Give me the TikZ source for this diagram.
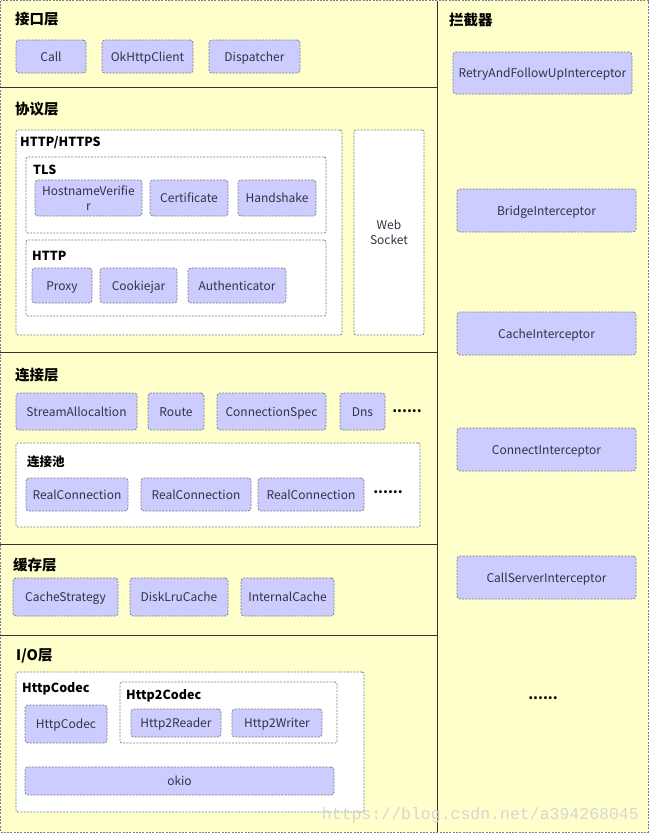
\documentclass[tikz,border=0pt]{standalone}
\usepackage{fontspec}
\setmainfont{Noto Sans CJK SC}
\newfontfamily\wmfont{Liberation Mono}
\definecolor{bgyellow}{HTML}{FFFFCC}
\definecolor{boxfill}{HTML}{CCCCFF}
\definecolor{boxline}{HTML}{7F7F7F}
\definecolor{boxtext}{HTML}{333344}
\definecolor{sepcol}{HTML}{333333}
\definecolor{wmcol}{HTML}{D6D6D6}
\tikzset{
  dsh/.style={dash pattern=on 2pt off 1.3pt, line width=0.8pt},
  boxbase/.style={draw=boxline, fill=boxfill, dsh, rounded corners=3pt, text=boxtext,
    font=\fontsize{12}{15}\selectfont, inner sep=0pt, align=center},
  box/.style={boxbase, text height=10pt, text depth=1pt},
  cont/.style={draw=boxline, fill=white, dsh, rounded corners=2pt, inner sep=0pt},
  ttl/.style={anchor=west, font=\fontsize{14.5}{16}\selectfont\bfseries, inner sep=0pt},
  sub/.style={anchor=west, font=\fontsize{12.5}{14}\selectfont\bfseries, inner sep=0pt},
  sep/.style={draw=sepcol, line width=1pt},
  dotstxt/.style={font=\fontsize{14}{14}\selectfont\bfseries, inner sep=0pt},
}
\begin{document}
\begin{tikzpicture}[x=1pt,y=-1pt]
\useasboundingbox (0,0) rectangle (650,835);
% background
\draw[draw=boxline, fill=bgyellow, dsh] (0.5,0.5) rectangle (648,832);
\draw[sep] (0,87) -- (437,87);
\draw[sep] (0,352) -- (437,352);
\draw[sep] (0,544) -- (437,544);
\draw[sep] (0,635) -- (437,635);
\draw[sep] (437,0.5) -- (437,832);

% ---- 接口层
\node[ttl] (t1) at (15,19) {接口层};
\node[box, minimum width=70pt, minimum height=33pt] (call) at (51,56.5) {Call};
\node[box, minimum width=91pt, minimum height=33pt] (okc) at (147.5,56.5) {OkHttpClient};
\node[box, minimum width=91pt, minimum height=33pt] (disp) at (254.5,56.5) {Dispatcher};

% ---- 协议层
\node[ttl] (t2) at (15,109) {协议层};
\node[cont, minimum width=326pt, minimum height=205pt] (https) at (179,232.5) {};
\node[sub] (lhttps) at (20,143) {HTTP/HTTPS};
\node[cont, minimum width=300pt, minimum height=76pt] (tls) at (176,195) {};
\node[sub] (ltls) at (33,170) {TLS};
\node[boxbase, minimum width=107pt, minimum height=36pt] (hv) at (88.5,198) {HostnameVerifie\\r};
\node[box, minimum width=78pt, minimum height=36pt] (cert) at (189,198) {Certificate};
\node[box, minimum width=78pt, minimum height=36pt] (hand) at (277,198) {Handshake};
\node[cont, minimum width=300pt, minimum height=76pt] (http) at (176,278) {};
\node[sub] (lhttp) at (32,256) {HTTP};
\node[box, minimum width=60pt, minimum height=35pt] (proxy) at (62,285.5) {Proxy};
\node[box, minimum width=77pt, minimum height=35pt] (cookie) at (138.5,285.5) {Cookiejar};
\node[box, minimum width=98pt, minimum height=35pt] (auth) at (237,285.5) {Authenticator};
\node[cont, minimum width=70pt, minimum height=205pt, align=center, text=boxtext,
  font=\fontsize{12}{14.5}\selectfont] (ws) at (389,232.5) {Web\\Socket};

% ---- 连接层
\node[ttl] (t3) at (15,375) {连接层};
\node[box, minimum width=121pt, minimum height=37pt] (sa) at (76.5,411.5) {StreamAllocaltion};
\node[box, minimum width=56pt, minimum height=37pt] (route) at (176,411.5) {Route};
\node[box, minimum width=109pt, minimum height=37pt] (cspec) at (271.5,411.5) {ConnectionSpec};
\node[box, minimum width=45pt, minimum height=37pt] (dns) at (362.5,411.5) {Dns};
\node[dotstxt] (d1) at (407,411) {......};
\node[cont, minimum width=404pt, minimum height=84pt] (pool) at (218,485) {};
\node[sub] (lpool) at (27,462) {连接池};
\node[box, minimum width=102pt, minimum height=33pt] (rc1) at (77,494.5) {RealConnection};
\node[box, minimum width=110pt, minimum height=33pt] (rc2) at (196,494.5) {RealConnection};
\node[box, minimum width=106pt, minimum height=33pt] (rc3) at (311,494.5) {RealConnection};
\node[dotstxt] (d2) at (388,492) {......};

% ---- 缓存层
\node[ttl] (t4) at (13,565) {缓存层};
\node[box, minimum width=105pt, minimum height=38pt] (cs) at (65.5,597) {CacheStrategy};
\node[box, minimum width=98pt, minimum height=38pt] (dlc) at (179,597) {DiskLruCache};
\node[box, minimum width=93pt, minimum height=38pt] (ic) at (287.5,597) {InternalCache};

% ---- I/O层
\node[ttl] (t5) at (16,656) {I/O层};
\node[cont, minimum width=348pt, minimum height=140pt] (io) at (190,742) {};
\node[sub] (lhc) at (22,689) {HttpCodec};
\node[box, minimum width=82pt, minimum height=38pt] (hc) at (66,724) {HttpCodec};
\node[cont, minimum width=217pt, minimum height=61pt] (h2) at (228.5,712.5) {};
\node[sub] (lh2) at (126,696) {Http2Codec};
\node[box, minimum width=90pt, minimum height=28pt] (h2r) at (176,723) {Http2Reader};
\node[box, minimum width=90pt, minimum height=28pt] (h2w) at (277,723) {Http2Writer};
\node[box, minimum width=309pt, minimum height=28pt] (okio) at (179.5,781) {okio};

% ---- 拦截器
\node[ttl] (t6) at (449,20) {拦截器};
\node[box, minimum width=179pt, minimum height=42pt] (i1) at (542.5,73) {RetryAndFollowUpInterceptor};
\node[box, minimum width=179pt, minimum height=43pt] (i2) at (546.5,210.5) {BridgeInterceptor};
\node[box, minimum width=179pt, minimum height=43pt] (i3) at (546.5,333.5) {CacheInterceptor};
\node[box, minimum width=179pt, minimum height=43pt] (i4) at (546.5,449.5) {ConnectInterceptor};
\node[box, minimum width=179pt, minimum height=43pt] (i5) at (546.5,577.5) {CallServerInterceptor};
\node[dotstxt] (d3) at (543,698) {......};

% watermark
\node[text=wmcol, font=\wmfont\fontsize{16.5}{17}\selectfont, inner sep=0pt, anchor=east] (wm) at (639,815) {https://blog.csdn.net/a394268045};
\end{tikzpicture}
\end{document}
